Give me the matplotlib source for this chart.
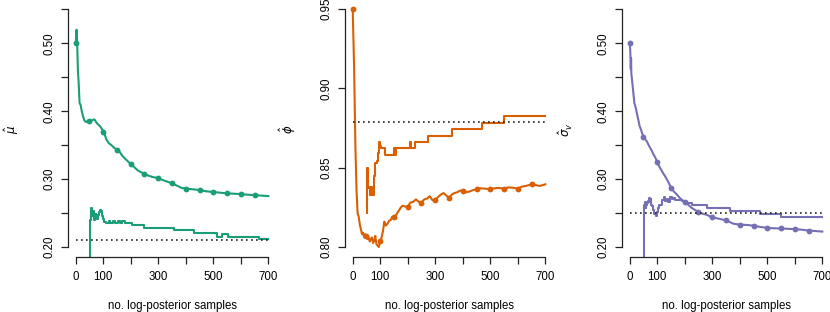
import matplotlib
matplotlib.use("Agg")
import matplotlib.pyplot as plt

plt.rcParams["font.family"] = ["Liberation Sans", "DejaVu Sans"]
plt.rcParams["mathtext.fontset"] = "dejavusans"

GREEN = "#1B9E77"
ORANGE = "#D95F02"
PURPLE = "#7570B3"

# ---- data ----
dot_x = [0, 50, 100, 150, 200, 250, 300, 350, 400, 450, 500, 550, 600, 650]

# mu: running estimate
mu_x = [0, 3, 5, 8, 11, 14, 18, 22, 27, 32, 38, 45, 50, 56, 62, 68, 74, 80, 88, 95,
        100, 105, 112, 120, 130, 140, 150, 160, 170, 180, 190, 200, 212, 225, 238,
        250, 265, 280, 300, 320, 335, 350, 370, 385, 400, 425, 450, 475, 500, 525,
        550, 575, 600, 625, 650, 675, 700]
mu_y = [0.500, 0.520, 0.505, 0.460, 0.440, 0.412, 0.409, 0.400, 0.392, 0.386, 0.384,
        0.386, 0.386, 0.386, 0.387, 0.388, 0.384, 0.381, 0.378, 0.374, 0.370, 0.366,
        0.358, 0.353, 0.350, 0.346, 0.343, 0.340, 0.334, 0.330, 0.326, 0.322, 0.318,
        0.313, 0.310, 0.308, 0.305, 0.303, 0.3015, 0.298, 0.296, 0.2936, 0.290,
        0.287, 0.286, 0.285, 0.284, 0.282, 0.281, 0.280, 0.279, 0.2785, 0.278,
        0.277, 0.2765, 0.2757, 0.275]
mu_dots = [0.500, 0.386, 0.370, 0.343, 0.322, 0.308, 0.3015, 0.2936, 0.286, 0.284,
           0.281, 0.279, 0.278, 0.2765]
# mu: stepwise estimate
mu_step_x = [49, 51, 53, 55, 57, 59, 61, 63, 65, 67, 69, 72, 75, 78, 81, 84, 88, 92,
             96, 100, 104, 110, 120, 126, 135, 142, 152, 160, 170, 178, 190, 203,
             247, 356, 429, 512, 531, 552, 668, 700]
mu_step_y = [0.180, 0.228, 0.240, 0.250, 0.257, 0.249, 0.246, 0.253, 0.247, 0.240,
             0.244, 0.248, 0.243, 0.241, 0.247, 0.252, 0.255, 0.253, 0.246, 0.241,
             0.237, 0.236, 0.239, 0.236, 0.239, 0.236, 0.239, 0.236, 0.239, 0.236,
             0.236, 0.2324, 0.2275, 0.225, 0.2201, 0.2152, 0.2191, 0.2152, 0.2118,
             0.2118]
mu_true = 0.2105

# phi: running estimate
phi_x = [0, 5, 10, 14, 18, 22, 26, 30, 34, 38, 42, 46, 50, 54, 58, 62, 66, 70, 74,
         78, 82, 86, 90, 95, 100, 105, 110, 115, 120, 126, 132, 138, 144, 150, 156,
         162, 168, 175, 182, 190, 200, 210, 220, 230, 240, 250, 260, 270, 280, 290,
         300, 310, 320, 330, 340, 350, 360, 370, 380, 390, 400, 410, 425, 440, 450,
         465, 480, 500, 515, 530, 550, 565, 580, 600, 615, 630, 650, 665, 680, 700]
phi_y = [0.950, 0.914, 0.862, 0.835, 0.821, 0.819, 0.814, 0.811, 0.808, 0.809, 0.806,
         0.808, 0.8067, 0.805, 0.806, 0.8035, 0.805, 0.806, 0.8025, 0.804, 0.807,
         0.802, 0.801, 0.800, 0.8035, 0.806, 0.810, 0.816, 0.8135, 0.8145, 0.8165,
         0.817, 0.819, 0.819, 0.8195, 0.8215, 0.823, 0.825, 0.826, 0.8255, 0.8255,
         0.828, 0.8285, 0.830, 0.8285, 0.828, 0.830, 0.8305, 0.832, 0.8295, 0.8295,
         0.8315, 0.833, 0.834, 0.8325, 0.831, 0.833, 0.834, 0.8345, 0.8355, 0.8355,
         0.8345, 0.835, 0.836, 0.8363, 0.837, 0.8368, 0.8363, 0.837, 0.8372, 0.8368,
         0.8375, 0.8374, 0.8368, 0.838, 0.8385, 0.8395, 0.839, 0.8385, 0.8395]
phi_dots = [0.950, 0.8067, 0.8035, 0.819, 0.8255, 0.828, 0.8295, 0.831, 0.8355,
            0.8363, 0.8363, 0.8368, 0.8368, 0.8395]
phi_step_x = [51, 52, 54, 60, 64, 67, 71, 76, 80, 88, 92, 96, 100, 104, 117, 151, 153,
              157, 160, 208, 212, 226, 274, 362, 470, 550, 700]
phi_step_y = [0.8214, 0.8498, 0.837, 0.838, 0.8326, 0.838, 0.8326, 0.8445, 0.853,
              0.854, 0.859, 0.866, 0.8635, 0.8624, 0.858, 0.8624, 0.858, 0.8624,
              0.8624, 0.866, 0.8624, 0.866, 0.870, 0.8742, 0.8783, 0.8827, 0.8827]
phi_true = 0.879

# sigma_v: running estimate
sig_x = [0, 2, 4, 5, 6, 8, 10, 12, 17, 22, 27, 32, 36, 40, 45, 50, 56, 63, 69, 75,
         81, 87, 94, 100, 107, 114, 121, 129, 140, 150, 160, 172, 185, 200, 213, 226,
         238, 250, 265, 280, 300, 315, 329, 350, 365, 377, 400, 425, 450, 475, 500,
         525, 550, 575, 600, 625, 650, 675, 700]
sig_y = [0.500, 0.490, 0.462, 0.478, 0.455, 0.448, 0.440, 0.432, 0.412, 0.405, 0.395,
         0.386, 0.378, 0.374, 0.368, 0.3618, 0.359, 0.355, 0.350, 0.3456, 0.341,
         0.336, 0.331, 0.3245, 0.319, 0.314, 0.309, 0.304, 0.296, 0.2875, 0.282,
         0.277, 0.271, 0.2665, 0.262, 0.2574, 0.2545, 0.2515, 0.249, 0.2475, 0.2436,
         0.2425, 0.2412, 0.2392, 0.2365, 0.2343, 0.2330, 0.2325, 0.2315, 0.2295,
         0.2282, 0.2276, 0.2273, 0.2268, 0.2263, 0.2255, 0.2243, 0.2235, 0.2227]
sig_dots = [0.500, 0.3618, 0.3245, 0.2875, 0.2665, 0.2515, 0.2436, 0.2392, 0.2330,
            0.2315, 0.2282, 0.2273, 0.2263, 0.2243]
sig_step_x = [51, 52, 55, 58, 61, 64, 67, 70, 73, 76, 79, 82, 86, 90, 95, 100, 104,
              108, 113, 118, 124, 129, 134, 140, 146, 152, 158, 164, 171, 180, 189,
              198, 226, 280, 365, 472, 550, 700]
sig_step_y = [0.180, 0.262, 0.2657, 0.2574, 0.262, 0.265, 0.268, 0.272, 0.266, 0.270,
              0.262, 0.260, 0.255, 0.249, 0.2455, 0.252, 0.258, 0.262, 0.262, 0.2696,
              0.273, 0.268, 0.271, 0.267, 0.273, 0.270, 0.272, 0.2686, 0.2696, 0.2696,
              0.268, 0.2647, 0.262, 0.2574, 0.2525, 0.2485, 0.2445, 0.2445]
sig_true = 0.2505

x_ticks = [0, 100, 200, 300, 400, 500, 600, 700]
x_labels = ["0", "100", "", "300", "", "500", "", "700"]


def draw_panel(ax, line_x, line_y, dots, step_x, step_y, truth, color,
               yticks, ylabels, ylim, ylab):
    ax.step(step_x, step_y, where="post", color=color, lw=1.5)
    ax.plot(line_x, line_y, color=color, lw=1.5)
    ax.plot(dot_x, dots, "o", color=color, ms=4.2, mec="none")
    ax.plot([0, 700], [truth, truth], color="#222222", lw=1.2, ls=(0, (1, 2)))

    ax.set_xlim(-28, 728)
    ax.set_ylim(*ylim)
    for side in ["top", "right"]:
        ax.spines[side].set_visible(False)
    ax.spines["left"].set_bounds(yticks[0], yticks[-1])
    ax.spines["bottom"].set_bounds(0, 700)
    for side in ["left", "bottom"]:
        ax.spines[side].set_linewidth(0.9)
        ax.spines[side].set_color("#222222")

    ax.set_xticks(x_ticks)
    ax.set_xticklabels(x_labels, fontsize=8.3)
    ax.set_yticks(yticks)
    ax.set_yticklabels(ylabels, fontsize=8.3, rotation=90, va="center")
    ax.tick_params(direction="out", length=5, width=0.9, color="#222222")
    ax.tick_params(axis="x", pad=5)
    ax.tick_params(axis="y", pad=4)

    ax.set_xlabel("no. log-posterior samples", fontsize=8.3)
    ax.xaxis.set_label_coords(0.5, -0.17)
    ax.set_ylabel(ylab, fontsize=8.5, rotation=90)
    ax.yaxis.set_label_coords(-0.225, 0.5)


fig = plt.figure(figsize=(8.3, 3.12), dpi=100)
W, H = 830.0, 312.0
bottom = (H - 257) / H
height = 255 / H
width = 208 / W

ax1 = fig.add_axes([68 / W, bottom, width, height])
ax2 = fig.add_axes([345 / W, bottom, width, height])
ax3 = fig.add_axes([622 / W, bottom, width, height])

lab_a = ["0.20", "", "0.30", "", "0.40", "", "0.50", ""]
ticks_a = [0.20, 0.25, 0.30, 0.35, 0.40, 0.45, 0.50, 0.55]

draw_panel(ax1, mu_x, mu_y, mu_dots, mu_step_x, mu_step_y, mu_true, GREEN,
           ticks_a, lab_a, (0.1853, 0.5608), r"$\hat{\mu}$")
draw_panel(ax2, phi_x, phi_y, phi_dots, phi_step_x, phi_step_y, phi_true, ORANGE,
           [0.80, 0.85, 0.90, 0.95], ["0.80", "0.85", "0.90", "0.95"],
           (0.7937, 0.9544), r"$\hat{\phi}$")
draw_panel(ax3, sig_x, sig_y, sig_dots, sig_step_x, sig_step_y, sig_true, PURPLE,
           ticks_a, lab_a, (0.1853, 0.5608), r"$\hat{\sigma}_v$")

fig.savefig("out.png", dpi=100)
